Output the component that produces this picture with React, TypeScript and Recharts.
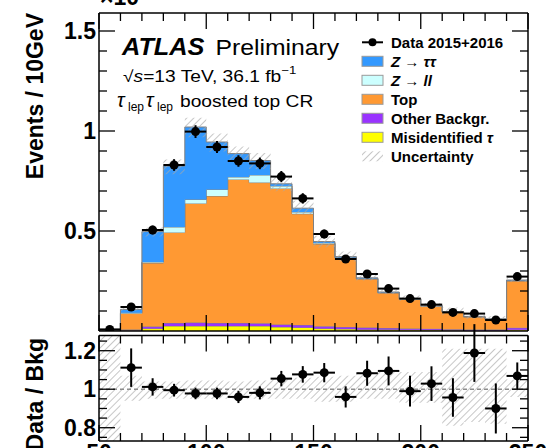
import React from "react";
import {
  ComposedChart,
  Area,
  Scatter,
  ErrorBar,
  XAxis,
  YAxis,
  ReferenceLine,
} from "recharts";

const FONT = "'Liberation Sans', Arial, Helvetica, sans-serif";

// bins of 10 GeV, low edges
const binLow = [50, 60, 70, 80, 90, 100, 110, 120, 130, 140, 150, 160, 170, 180, 190, 200, 210, 220, 230, 240];

// events / 10 GeV, in units of 10^3
const dataEvents = [0.008, 0.12, 0.505, 0.83, 0.997, 0.92, 0.85, 0.838, 0.772, 0.663, 0.485, 0.36, 0.285, 0.212, 0.162, 0.132, 0.093, 0.087, 0.055, 0.272];
const dataErr = [0.004, 0.011, 0.022, 0.029, 0.032, 0.03, 0.029, 0.029, 0.028, 0.026, 0.022, 0.019, 0.017, 0.015, 0.013, 0.012, 0.01, 0.009, 0.008, 0.017];
const fakeTau = [0, 0.004, 0.012, 0.025, 0.025, 0.025, 0.025, 0.025, 0.02, 0.018, 0.012, 0.01, 0.008, 0.007, 0.006, 0.005, 0.004, 0.003, 0.003, 0.006];
const otherBkg = [0, 0.004, 0.01, 0.015, 0.017, 0.015, 0.015, 0.014, 0.013, 0.012, 0.012, 0.01, 0.009, 0.008, 0.007, 0.006, 0.005, 0.005, 0.004, 0.01];
const topBkg = [0.003, 0.08, 0.318, 0.453, 0.596, 0.635, 0.718, 0.703, 0.68, 0.556, 0.411, 0.346, 0.243, 0.175, 0.145, 0.113, 0.085, 0.062, 0.051, 0.234];
const zll = [0, 0.003, 0.005, 0.027, 0.02, 0.033, 0.012, 0.038, 0.012, 0.009, 0.005, 0.002, 0.002, 0.002, 0.002, 0.001, 0.001, 0.001, 0.001, 0.002];
const ztautau = [0, 0.017, 0.152, 0.305, 0.362, 0.237, 0.117, 0.072, 0.011, 0.019, 0.007, 0.004, 0.004, 0.003, 0.003, 0.003, 0.002, 0.002, 0.002, 0.003];

// relative background uncertainty (lower / upper edge)
const uncLo = [0.5, 0.94, 0.95, 0.95, 0.95, 0.95, 0.95, 0.95, 0.95, 0.95, 0.935, 0.935, 0.95, 0.95, 0.93, 0.93, 0.81, 0.83, 0.82, 0.96];
const uncHi = [1.5, 1.07, 1.04, 1.04, 1.045, 1.045, 1.04, 1.045, 1.06, 1.06, 1.065, 1.07, 1.09, 1.09, 1.09, 1.09, 1.21, 1.21, 1.21, 1.05];

// data / bkg
const ratio = [null, 1.112, 1.012, 0.995, 0.978, 0.978, 0.96, 0.981, 1.055, 1.077, 1.086, 0.96, 1.083, 1.095, 0.99, 1.029, 0.957, 1.188, 0.9, 1.069];
const ratioErr = [0, 0.1, 0.045, 0.033, 0.03, 0.03, 0.032, 0.034, 0.04, 0.043, 0.05, 0.055, 0.065, 0.075, 0.08, 0.09, 0.1, 0.15, 0.13, 0.07];

const xTicks = [50, 60, 70, 80, 90, 100, 110, 120, 130, 140, 150, 160, 170, 180, 190, 200, 210, 220, 230, 240, 250];
const xLabels = [50, 100, 150, 200, 250];
const yTicksTop = [0.1, 0.2, 0.3, 0.4, 0.5, 0.6, 0.7, 0.8, 0.9, 1, 1.1, 1.2, 1.3, 1.4, 1.5];
const yLabelsTop = [0.5, 1, 1.5];
const yTicksRatio = [0.75, 0.8, 0.85, 0.9, 0.95, 1, 1.05, 1.1, 1.15, 1.2, 1.25];
const yLabelsRatio = [0.8, 1, 1.2];

const legendItems = [
  { key: "ztt", label: "ztt", fill: "#3399ff" },
  { key: "zll", label: "zll", fill: "#ccffff" },
  { key: "top", label: "Top", fill: "#ff9933" },
  { key: "other", label: "Other Backgr.", fill: "#9933ff" },
  { key: "fake", label: "fake", fill: "#ffff00" },
];

const colors: Record<string, string> = {
  fake: "#ffff00",
  other: "#9933ff",
  top: "#ff9933",
  zll: "#ccffff",
  ztt: "#3399ff",
};

// step rows: one per bin low edge, plus the closing edge at 250
const rows = [...binLow, 250].map((x, j) => {
  const i = Math.min(j, binLow.length - 1);
  const total = fakeTau[i] + otherBkg[i] + topBkg[i] + zll[i] + ztautau[i];
  return {
    x,
    fake: fakeTau[i],
    other: otherBkg[i],
    top: topBkg[i],
    zll: zll[i],
    ztt: ztautau[i],
    band: [total * uncLo[i], total * uncHi[i]],
    rband: [uncLo[i], uncHi[i]],
  };
});

const dataPoints = binLow.map((x, i) => ({ x: x + 5, y: dataEvents[i], ex: 5, ey: dataErr[i] }));
const ratioPoints = binLow
  .map((x, i) => ({ x: x + 5, y: ratio[i], ex: 5, ey: ratioErr[i] }))
  .filter((p) => p.y !== null);

const axisStyle = { stroke: "#000", strokeWidth: 1.5 };

type Side = "left" | "right" | "top" | "bottom";

const makeTick = (side: Side, majors: number[], labelled: boolean) => (props: any) => {
  const { x, y, payload } = props;
  const v = payload.value;
  const major = majors.some((m) => Math.abs(m - v) < 1e-6);
  const len = major ? 16 : 8;
  const dx = side === "left" ? len : side === "right" ? -len : 0;
  const dy = side === "bottom" ? -len : side === "top" ? len : 0;
  return (
    <g>
      <line x1={x} y1={y} x2={x + dx} y2={y + dy} stroke="#000" strokeWidth={1.3} />
      {labelled && major && side === "left" && (
        <text x={x - 3} y={y} textAnchor="end" dominantBaseline="central" fontFamily={FONT} fontWeight="bold" fontSize={23} fill="#000">
          {String(v)}
        </text>
      )}
      {labelled && major && side === "bottom" && (
        <text x={x} y={y + 20} textAnchor="middle" fontFamily={FONT} fontWeight="bold" fontSize={23} fill="#000">
          {String(v)}
        </text>
      )}
    </g>
  );
};

const Marker = (p: any) => <circle cx={p.cx} cy={p.cy} r={4.5} fill="#000" />;

const Hatch = ({ id }: { id: string }) => (
  <pattern id={id} width={5} height={5} patternUnits="userSpaceOnUse" patternTransform="rotate(45)">
    <line x1={0} y1={0} x2={0} y2={5} stroke="#a8a8a8" strokeWidth={1.3} />
  </pattern>
);

const Frame = ({ ticksY, majorsY, domainY, labelsX }: any) => [
  <XAxis key="xb" xAxisId="b" type="number" dataKey="x" domain={[50, 250]} ticks={xTicks} interval={0} height={1}
    tickSize={0} tickMargin={0} tickLine={false} axisLine={axisStyle} tick={makeTick("bottom", xLabels, labelsX)} />,
  <XAxis key="xt" xAxisId="t" orientation="top" type="number" dataKey="x" domain={[50, 250]} ticks={xTicks} interval={0} height={1}
    tickSize={0} tickMargin={0} tickLine={false} axisLine={axisStyle} tick={makeTick("top", xLabels, false)} />,
  <YAxis key="yl" yAxisId="l" type="number" domain={domainY} allowDataOverflow ticks={ticksY} interval={0} width={1}
    tickSize={0} tickMargin={0} tickLine={false} axisLine={axisStyle} tick={makeTick("left", majorsY, true)} />,
  <YAxis key="yr" yAxisId="r" orientation="right" type="number" domain={domainY} allowDataOverflow ticks={ticksY} interval={0} width={1}
    tickSize={0} tickMargin={0} tickLine={false} axisLine={axisStyle} tick={makeTick("right", majorsY, false)} />,
];

const stackKeys = ["fake", "other", "top", "zll", "ztt"];

const TopPanel = () => (
  <ComposedChart width={546} height={340} data={rows} margin={{ top: 12, right: 17, bottom: 8, left: 98 }}>
    <defs>
      <Hatch id="hatchTop" />
    </defs>
    {Frame({ ticksY: yTicksTop, majorsY: yLabelsTop, domainY: [0, 1.59], labelsX: false })}
    {stackKeys.map((k) => (
      <Area key={k} xAxisId="b" yAxisId="l" dataKey={k} stackId="bkg" type="stepAfter" fill={colors[k]} fillOpacity={1}
        stroke="#808080" strokeWidth={1} isAnimationActive={false} dot={false} activeDot={false} />
    ))}
    <Area xAxisId="b" yAxisId="l" dataKey="band" type="stepAfter" fill="url(#hatchTop)" fillOpacity={1} stroke="none"
      isAnimationActive={false} dot={false} activeDot={false} />
    <Scatter xAxisId="b" yAxisId="l" data={dataPoints} dataKey="y" shape={Marker} isAnimationActive={false}>
      <ErrorBar dataKey="ex" direction="x" width={0} stroke="#000" strokeWidth={2} />
      <ErrorBar dataKey="ey" direction="y" width={0} stroke="#000" strokeWidth={2} />
    </Scatter>
  </ComposedChart>
);

const RatioPanel = () => (
  <ComposedChart width={546} height={160} data={rows} margin={{ top: 14.5, right: 17, bottom: 38, left: 98 }}>
    <defs>
      <Hatch id="hatchRatio" />
    </defs>
    {Frame({ ticksY: yTicksRatio, majorsY: yLabelsRatio, domainY: [0.731, 1.279], labelsX: true })}
    <Area xAxisId="b" yAxisId="l" dataKey="rband" type="stepAfter" fill="url(#hatchRatio)" fillOpacity={1} stroke="none"
      isAnimationActive={false} dot={false} activeDot={false} />
    <ReferenceLine xAxisId="b" yAxisId="l" y={1} stroke="#8c8c8c" strokeDasharray="4 3" strokeWidth={1.5} />
    <Scatter xAxisId="b" yAxisId="l" data={ratioPoints} dataKey="y" shape={Marker} isAnimationActive={false}>
      <ErrorBar dataKey="ex" direction="x" width={0} stroke="#000" strokeWidth={2} />
      <ErrorBar dataKey="ey" direction="y" width={0} stroke="#000" strokeWidth={2} />
    </Scatter>
  </ComposedChart>
);

const LegendLabel = ({ k }: { k: string }) => {
  if (k === "ztt")
    return (
      <>
        <tspan fontStyle="italic">Z</tspan> → <tspan fontStyle="italic">ττ</tspan>
      </>
    );
  if (k === "zll")
    return (
      <>
        <tspan fontStyle="italic">Z</tspan> → <tspan fontStyle="italic">ll</tspan>
      </>
    );
  if (k === "fake") return <>Misidentified <tspan fontStyle="italic">τ</tspan></>;
  return <>{legendItems.find((l) => l.key === k)?.label}</>;
};

const Overlay = () => {
  const lx = 362;
  const tx = 391;
  const row0 = 42.3;
  const step = 19;
  return (
    <svg width={546} height={448} style={{ position: "absolute", left: 0, top: 0, pointerEvents: "none" }} fontFamily={FONT}>
      <defs>
        <Hatch id="hatchLeg" />
      </defs>
      <text x={100} y={5} fontSize={23} fontWeight="bold">
        ×10<tspan dy={-10} fontSize={16}>3</tspan>
      </text>
      <text transform="translate(43,13) rotate(-90)" textAnchor="end" fontSize={23} fontWeight="bold">
        Events / 10GeV
      </text>
      <text transform="translate(43,338) rotate(-90)" textAnchor="end" fontSize={23} fontWeight="bold">
        Data / Bkg
      </text>
      <g transform="translate(122,55) scale(1.1,1)">
        <text x={0} y={0} fontSize={23} fontWeight="bold" fontStyle="italic">ATLAS</text>
        <text x={85} y={0} fontSize={22.5}>Preliminary</text>
      </g>
      <g transform="translate(123,81.7) scale(1.2,1)">
        <text x={0} y={0} fontSize={16}>
          √<tspan fontStyle="italic">s</tspan>=13 TeV, 36.1 fb<tspan dy={-8} fontSize={11}>−1</tspan>
        </text>
      </g>
      <text x={117} y={106.5} fontSize={20} fontStyle="italic">τ</text>
      <text x={128} y={110.5} fontSize={12}>lep</text>
      <text x={146} y={106.5} fontSize={20} fontStyle="italic">τ</text>
      <text x={157} y={110.5} fontSize={12}>lep</text>
      <g transform="translate(180,107.3) scale(1.2,1)">
        <text x={0} y={0} fontSize={16}>boosted top CR</text>
      </g>

      <line x1={lx} y1={row0} x2={lx + 21} y2={row0} stroke="#000" strokeWidth={2} />
      <circle cx={lx + 10.5} cy={row0} r={4} fill="#000" />
      <text x={tx} y={row0 + 5.5} fontSize={15} fontWeight="bold">Data 2015+2016</text>
      {legendItems.map((it, i) => {
        const cy = row0 + step * (i + 1);
        return (
          <g key={it.key}>
            <rect x={lx} y={cy - 5} width={21} height={10} fill={it.fill} stroke="#9a9a9a" strokeWidth={1} />
            <text x={tx} y={cy + 5.5} fontSize={15} fontWeight="bold">
              <LegendLabel k={it.key} />
            </text>
          </g>
        );
      })}
      <rect x={lx} y={row0 + step * 6 - 5} width={21} height={10} fill="url(#hatchLeg)" />
      <text x={tx} y={row0 + step * 6 + 5.5} fontSize={15} fontWeight="bold">Uncertainty</text>
    </svg>
  );
};

export default function App() {
  return (
    <div style={{ position: "absolute", left: 0, top: 0, width: 546, height: 448, overflow: "hidden", background: "#fff" }}>
      <div style={{ position: "absolute", left: 0, top: 0 }}>
        <TopPanel />
      </div>
      <div style={{ position: "absolute", left: 0, top: 320 }}>
        <RatioPanel />
      </div>
      <Overlay />
    </div>
  );
}
